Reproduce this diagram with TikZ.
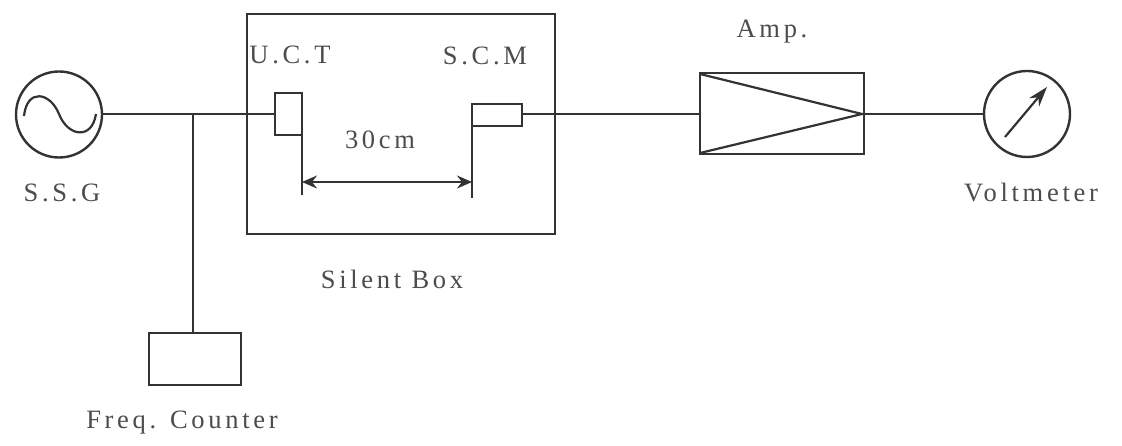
\documentclass[tikz,border=0pt]{standalone}
\usepackage{fontspec}
\setmainfont[LetterSpace=14]{Liberation Serif}
\usetikzlibrary{arrows.meta}
\definecolor{ink}{gray}{0.2}
\definecolor{txt}{gray}{0.3}
\tikzset{
 wire/.style={draw=ink,line width=2.2pt},
 boxnode/.style={draw=ink,line width=2.2pt,rectangle,inner sep=0pt,outer sep=0pt},
 dial/.style={draw=ink,line width=2.4pt,circle,inner sep=0pt,outer sep=0pt,minimum size=86pt},
 lab/.style={text=txt,font=\fontsize{26.5pt}{28pt}\selectfont,inner sep=0pt},
 dim/.style={draw=ink,line width=2.2pt,{Stealth[length=15pt,width=13pt,inset=5pt]}-{Stealth[length=15pt,width=13pt,inset=5pt]}}
}
\begin{document}
\begin{tikzpicture}[x=1pt,y=-1pt]
\useasboundingbox[fill=white] (0,0) rectangle (1122,446);
% Boxes
\node[boxnode,minimum width=308pt,minimum height=220pt] (silent) at (401,124) {};
\node[boxnode,minimum width=27pt,minimum height=42pt] (uct) at (288.5,114) {};
\node[boxnode,minimum width=50pt,minimum height=22pt] (scm) at (497,115) {};
\node[boxnode,minimum width=164pt,minimum height=81pt] (amp) at (781.7,113.4) {};
\node[boxnode,minimum width=92pt,minimum height=52pt] (freq) at (195,359) {};
\node[dial] (ssg) at (59,114.5) {};
\node[dial] (volt) at (1027,114) {};
% Junction and free-end coordinates
\coordinate (tee) at (193,114);
\coordinate (uctin) at (uct.west |- tee);
\coordinate (rodA) at (302,195);
\coordinate (rodB) at (472,198);
\coordinate (dimA) at (302,182);
\coordinate (dimB) at (472,182);
\coordinate (triA) at (700,74);
\coordinate (triB) at (700,153);
\coordinate (triC) at (862,114);
\coordinate (needleA) at (1005,137);
\coordinate (needleB) at (1047,87);
\coordinate (sineA) at (24,116);
\coordinate (sineB) at (96,114);
% Wires
\draw[wire] (ssg.east |- tee) -- (tee) -- (uctin);
\draw[wire] (tee) -- (tee |- freq.north);
\draw[wire] (uct.north east) -- (rodA);
\draw[wire] (scm.north west) -- (rodB);
\draw[wire] (scm.east |- 0,114) -- (amp.west |- 0,114);
\draw[wire] (amp.east |- 0,114) -- (volt.west |- 0,114);
\draw[dim] (dimA) -- (dimB);
% Amplifier triangle
\draw[wire] (triA) -- (triC) -- (triB);
% Sine
\draw[wire] (sineA) .. controls (27,88) and (50,92) .. (59,114)
  .. controls (68,137) and (92,140) .. (sineB);
% Needle
\draw[draw=ink,line width=2.2pt,-{Stealth[length=20pt,width=13pt]}] (needleA) -- (needleB);
% Labels
\node[lab] (lssg) at (62,193) {S.S.G};
\node[lab] (luct) at (290,55) {U.C.T};
\node[lab] (lscm) at (485,56) {S.C.M};
\node[lab] (l30) at (380,140) {30cm};
\node[lab] (lsil) at (392,279) {Silent Box};
\node[lab] (lfrq) at (182,423) {Freq. Counter};
\node[lab] (lamp) at (772,32) {Amp.};
\node[lab] (lvol) at (1031,193) {Voltmeter};
\end{tikzpicture}
\end{document}
